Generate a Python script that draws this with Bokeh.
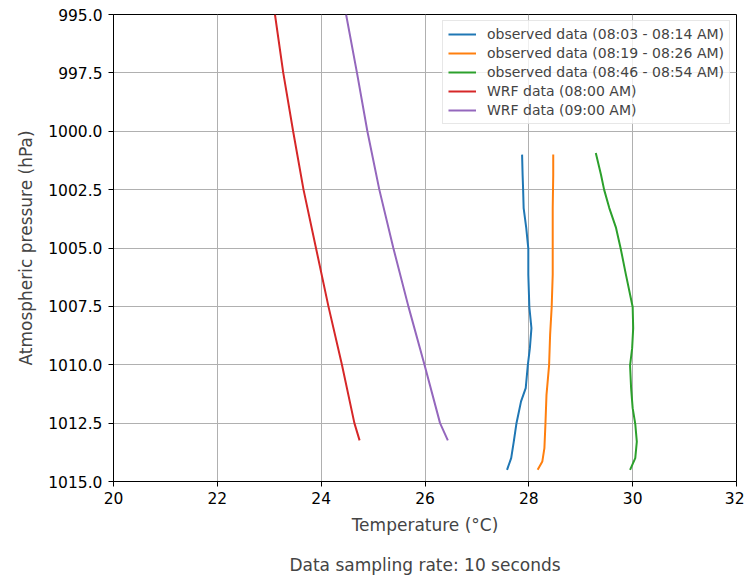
from bokeh.plotting import figure
from bokeh.models import Range1d, FixedTicker, PrintfTickFormatter, Legend, LegendItem, Title
from bokeh.embed import file_html
from bokeh.resources import INLINE

# observed 08:03 - 08:14
obs1_p = [1001.0, 1001.86, 1002.5, 1003.29, 1004.14, 1005.03, 1006.14, 1007.53, 1008.43, 1009.29, 1010.03, 1011.0, 1011.57, 1012.53, 1013.29, 1014.0, 1014.5]
obs1_t = [27.87, 27.88, 27.89, 27.90, 27.95, 27.99, 27.99, 28.01, 28.05, 28.02, 27.98, 27.94, 27.85, 27.76, 27.71, 27.66, 27.58]
# observed 08:19 - 08:26
obs2_p = [1001.0, 1001.86, 1003.29, 1005.03, 1006.14, 1007.53, 1008.71, 1010.03, 1011.29, 1012.53, 1013.57, 1014.14, 1014.5]
obs2_t = [28.47, 28.47, 28.46, 28.46, 28.46, 28.44, 28.41, 28.39, 28.34, 28.32, 28.30, 28.26, 28.17]
# observed 08:46 - 08:54
obs3_p = [1000.93, 1001.86, 1002.5, 1003.29, 1004.14, 1005.03, 1006.14, 1007.53, 1008.43, 1009.29, 1010.03, 1011.0, 1011.86, 1012.53, 1013.29, 1014.0, 1014.5]
obs3_t = [29.29, 29.39, 29.45, 29.55, 29.68, 29.77, 29.87, 30.00, 30.01, 29.99, 29.95, 29.97, 30.00, 30.05, 30.08, 30.05, 29.95]
# WRF levels
wrf_p = [995.0, 997.5, 1000.0, 1002.5, 1005.0, 1007.5, 1010.0, 1012.5, 1013.24]
wrf08_t = [23.11, 23.27, 23.46, 23.66, 23.90, 24.14, 24.40, 24.64, 24.74]
wrf09_t = [24.48, 24.69, 24.89, 25.12, 25.39, 25.68, 25.99, 26.29, 26.44]

labels = ["observed data (08:03 - 08:14 AM)", "observed data (08:19 - 08:26 AM)",
          "observed data (08:46 - 08:54 AM)", "WRF data (08:00 AM)", "WRF data (09:00 AM)"]
colors = ["#1f77b4", "#ff7f0e", "#2ca02c", "#d62728", "#9467bd"]
x_ticks = [20, 22, 24, 26, 28, 30, 32]
y_ticks = [995.0, 997.5, 1000.0, 1002.5, 1005.0, 1007.5, 1010.0, 1012.5, 1015.0]

FONT = "DejaVu Sans"

p = figure(width=744, height=578, output_backend="svg", toolbar_location=None,
           x_range=Range1d(20, 32), y_range=Range1d(1015, 995),
           frame_width=623, frame_height=467,
           min_border_left=113, min_border_top=14, min_border_right=8, min_border_bottom=97)
p.background_fill_color = "white"
p.border_fill_color = "white"
p.outline_line_color = "black"
p.outline_line_width = 1

series = [(obs1_t, obs1_p), (obs2_t, obs2_p), (obs3_t, obs3_p), (wrf08_t, wrf_p), (wrf09_t, wrf_p)]
items = []
for (t, pr), lab, c in zip(series, labels, colors):
    r = p.line(t, pr, line_color=c, line_width=2)
    items.append(LegendItem(label=lab, renderers=[r]))

legend = Legend(items=items, location="top_right")
legend.label_text_font = FONT
legend.label_text_font_size = "14px"
legend.label_height = 14
legend.glyph_height = 14
legend.glyph_width = 28
legend.label_standoff = 11
legend.spacing = 3
legend.padding = 5
legend.margin = 6
legend.border_line_color = "#d0d0d0"
legend.border_line_width = 1
legend.background_fill_alpha = 0.8
p.add_layout(legend)

for ax in (p.xaxis[0], p.yaxis[0]):
    ax.major_label_text_font = FONT
    ax.major_label_text_font_size = "15.5px"
    ax.axis_label_text_font = FONT
    ax.axis_label_text_font_size = "17px"
    ax.axis_label_text_font_style = "normal"
    ax.major_tick_out = 5
    ax.major_tick_in = 0
    ax.minor_tick_out = 0
    ax.minor_tick_in = 0
    ax.axis_line_color = "black"
    ax.major_label_text_color = "black"

p.xaxis.ticker = FixedTicker(ticks=x_ticks)
p.yaxis.ticker = FixedTicker(ticks=y_ticks)
p.yaxis.formatter = PrintfTickFormatter(format="%.1f")
p.yaxis.major_label_standoff = 6
p.xaxis.axis_label = "Temperature (°C)"
p.yaxis.axis_label = "Atmospheric pressure (hPa)"
p.xaxis.axis_label_standoff = 8
p.yaxis.axis_label_standoff = 9

p.grid.grid_line_color = "#b0b0b0"
p.grid.grid_line_width = 1
p.xgrid.ticker = FixedTicker(ticks=x_ticks)
p.ygrid.ticker = FixedTicker(ticks=y_ticks)

foot = Title(text="Data sampling rate: 10 seconds", align="center",
             text_font=FONT, text_font_size="17px", text_font_style="normal", standoff=30)
p.add_layout(foot, "below")

open("out.html", "w").write(file_html(p, INLINE))
